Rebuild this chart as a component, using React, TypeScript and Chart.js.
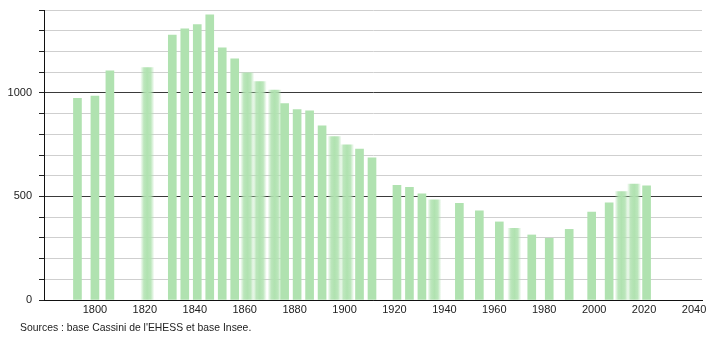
import React, { useEffect, useRef } from "react";
import { Chart, registerables } from "chart.js";

Chart.register(...registerables);

const years = [
  1793, 1800, 1806, 1821, 1831, 1836, 1841, 1846, 1851, 1856, 1861, 1866,
  1872, 1876, 1881, 1886, 1891, 1896, 1901, 1906, 1911, 1921, 1926, 1931,
  1936, 1946, 1954, 1962, 1968, 1975, 1982, 1990, 1999, 2006, 2011, 2016, 2021,
];
const population = [
  974, 985, 1106, 1122, 1279, 1309, 1330, 1377, 1217, 1164, 1097, 1055,
  1014, 948, 919, 913, 841, 789, 749, 729, 686, 554, 544, 512,
  483, 467, 430, 377, 346, 314, 298, 341, 425, 469, 523, 560, 551,
];
const blurredYears = [1821, 1861, 1866, 1872, 1896, 1901, 1936, 1968, 2011, 2016];
const xTickYears = [1800, 1820, 1840, 1860, 1880, 1900, 1920, 1940, 1960, 1980, 2000, 2020, 2040];
const yTickValues = [0, 100, 200, 300, 400, 500, 600, 700, 800, 900, 1000, 1100, 1200, 1300, 1400];
const sourceText = "Sources : base Cassini de l'EHESS et base Insee.";

const GREEN = "rgb(176,226,176)";
const GREEN_T = "rgba(176,226,176,0)";
const FONT = "'Liberation Sans', Arial, sans-serif";

export default function App() {
  const ref = useRef<HTMLCanvasElement | null>(null);

  useEffect(() => {
    if (!ref.current) return;
    const sharp = years
      .map((x, i) => ({ x, y: population[i] }))
      .filter((p) => !blurredYears.includes(p.x));
    const soft = years
      .map((x, i) => ({ x, y: population[i] }))
      .filter((p) => blurredYears.includes(p.x));

    const chart = new Chart(ref.current, {
      type: "bar",
      data: {
        datasets: [
          {
            data: sharp as any,
            backgroundColor: GREEN,
            borderWidth: 0,
            barThickness: 8,
            grouped: false,
          } as any,
          {
            data: soft as any,
            backgroundColor: (c: any) => {
              const xs = c.chart.scales?.x;
              if (!xs || !c.raw) return GREEN;
              const px = xs.getPixelForValue(c.raw.x);
              if (!isFinite(px)) return GREEN;
              const g = c.chart.ctx.createLinearGradient(px - 7, 0, px + 7, 0);
              g.addColorStop(0, GREEN_T);
              g.addColorStop(0.25, "rgba(176,226,176,0.85)");
              g.addColorStop(0.5, GREEN);
              g.addColorStop(0.75, "rgba(176,226,176,0.85)");
              g.addColorStop(1, GREEN_T);
              return g;
            },
            borderWidth: 0,
            barThickness: 14,
            grouped: false,
          } as any,
        ],
      },
      options: {
        responsive: false,
        animation: false,
        layout: { padding: { left: 0, right: 8, top: 10, bottom: 0 } },
        plugins: { legend: { display: false }, tooltip: { enabled: false } },
        scales: {
          x: {
            type: "linear",
            offset: false,
            min: 1779.6,
            max: 2043.2,
            grid: { display: false, drawTicks: false, offset: false },
            border: { display: true, color: "#111", width: 1 },
            afterBuildTicks: (s: any) => {
              s.ticks = xTickYears.map((v) => ({ value: v }));
            },
            afterFit: (s: any) => {
              s.height = 40;
            },
            ticks: {
              autoSkip: false,
              maxRotation: 0,
              padding: 3,
              color: "#222",
              font: { family: FONT, size: 11 },
              callback: (v: any) => String(v),
            },
          },
          y: {
            type: "linear",
            min: 0,
            max: 1400,
            afterBuildTicks: (s: any) => {
              s.ticks = yTickValues.map((v) => ({ value: v }));
            },
            afterFit: (s: any) => {
              s.width = 44;
              s.paddingTop = 0;
              s.paddingBottom = 0;
            },
            grid: {
              color: (c: any) =>
                c.tick && c.tick.value % 500 === 0 ? "#3a3a3a" : "#cfcfcf",
              tickColor: "#222",
              tickLength: 5,
              lineWidth: 1,
            },
            border: { display: true, color: "#111", width: 1 },
            ticks: {
              autoSkip: false,
              padding: 7,
              color: "#222",
              font: { family: FONT, size: 11 },
              callback: (v: any) => (Number(v) % 500 === 0 ? String(v) : ""),
            },
          },
        },
      },
    });
    return () => chart.destroy();
  }, []);

  return (
    <div style={{ position: "fixed", left: 0, top: 0, width: 710, height: 340, background: "#fff" }}>
      <canvas ref={ref} width={710} height={340} style={{ display: "block" }} />
      <div
        style={{
          position: "absolute",
          left: 20,
          top: 322,
          fontFamily: FONT,
          fontSize: 10.4,
          lineHeight: "12px",
          color: "#222",
          whiteSpace: "nowrap",
        }}
      >
        {sourceText}
      </div>
    </div>
  );
}
